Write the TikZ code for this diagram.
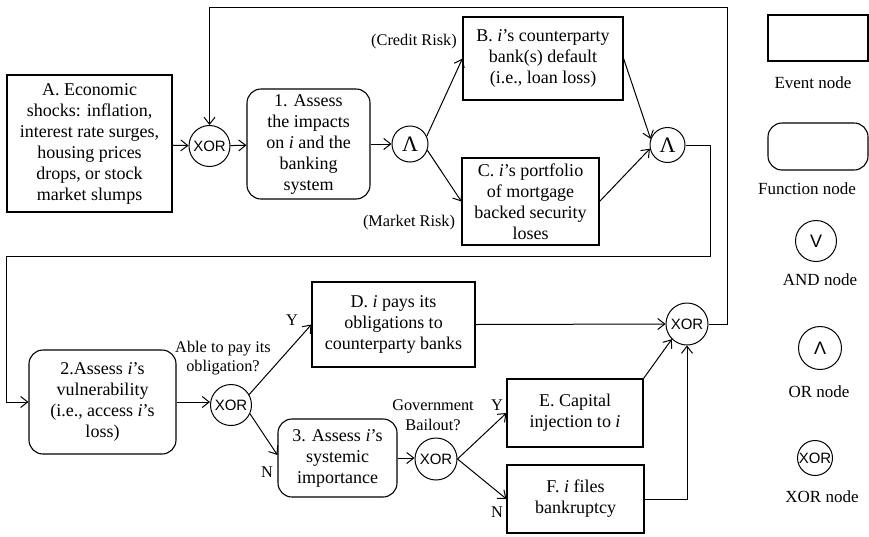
\documentclass[tikz,border=0pt]{standalone}
\usepackage{fontspec}
\setmainfont{Liberation Serif}
\newfontfamily\gatefont{Liberation Sans}
\usetikzlibrary{arrows.meta}
\newcommand\bodyfont{\fontsize{18}{21}\selectfont}
\newcommand\labelfont{\fontsize{16.3}{19.5}\selectfont}
\newcommand\keyfont{\fontsize{17}{20}\selectfont}
\begin{document}
\begin{tikzpicture}[x=1pt,y=-1pt,
  >={Straight Barb[length=7pt,width=11pt]},
  event/.style={draw, line width=1.1pt, align=center, inner sep=0pt, font=\bodyfont},
  func/.style={event, rounded corners=14pt},
  gate/.style={draw, circle, line width=1pt, inner sep=0pt},
  xorgate/.style={gate, font=\gatefont\fontsize{15}{15}\selectfont},
  andgate/.style={gate, font=\fontsize{22}{22}\selectfont},
  lbl/.style={align=center, inner sep=0pt, font=\labelfont},
  keylbl/.style={align=center, inner sep=0pt, font=\keyfont},
  conn/.style={line width=1pt, ->},
  wire/.style={line width=1pt}]
\useasboundingbox (0,0) rectangle (869,536);

% event and function nodes
\node[event, minimum width=165, minimum height=137] (A) at (89.5,143.5)
  {A. Economic\\shocks: inflation,\\interest rate surges,\\housing prices\\drops, or stock\\market slumps};
\node[func, minimum width=123, minimum height=110] (F1) at (308.5,144)
  {1. Assess\\the impacts\\on \textit{i} and the\\banking\\system};
\node[event, minimum width=160, minimum height=83] (B) at (543,58.5)
  {B. \textit{i}’s counterparty\\bank(s) default\\(i.e., loan loss)};
\node[event, minimum width=137, minimum height=87] (C) at (530.5,201.5)
  {C. \textit{i}’s portfolio\\of mortgage\\backed security\\loses};
\node[func, minimum width=147, minimum height=104] (F2) at (102.5,402)
  {2.Assess \textit{i}’s\\vulnerability\\(i.e., access \textit{i}’s\\loss)};
\node[event, minimum width=163, minimum height=85] (D) at (393.5,324.5)
  {D. \textit{i} pays its\\obligations to\\counterparty banks};
\node[func, minimum width=119, minimum height=78] (F3) at (337.5,458)
  {3. Assess \textit{i}’s\\systemic\\importance};
\node[event, minimum width=136, minimum height=68] (E) at (575,413)
  {E. Capital\\injection to \textit{i}};
\node[event, minimum width=137, minimum height=68] (F) at (575.5,499)
  {F. \textit{i} files\\bankruptcy};

% logical connectors
\node[xorgate, minimum size=41] (X1) at (209.5,146) {XOR};
\node[andgate, minimum size=36] (L1) at (410,144) {Λ};
\node[andgate, minimum size=35] (L2) at (667.5,145) {Λ};
\node[xorgate, minimum size=41] (X2) at (231,405) {XOR};
\node[xorgate, minimum size=42] (X3) at (436,459) {XOR};
\node[xorgate, minimum size=42] (X4) at (687,324) {XOR};

% routing points of the two feedback wires
\coordinate (t1) at (727,7);
\coordinate (t2) at (209.5,7);
\coordinate (r1) at (710,256);
\coordinate (r2) at (6,256);

% connectors
\draw[conn] (A) -- (X1);
\draw[conn] (X1) -- (F1);
\draw[conn] (F1) -- (L1);
\draw[conn] (L1.25) -- (B.west);
\draw[conn] (L1.-20) -- (C.west);
\draw[conn] (B.east) -- (L2.160);
\draw[conn] (C.east) -- (L2.192);
\draw[conn] (L2.east) -| (r1) -- (r2) |- (F2.west);
\draw[conn] (F2.east) -- (X2.west |- F2.east);
\draw[conn] (X2.30) -- (D.west);
\draw[conn] (X2.-25) -- ([yshift=3pt]F3.west);
\draw[conn] (F3.east) -- (X3.west |- F3.east);
\draw[conn] (X3.east) -- (E.west);
\draw[conn] (X3.east) -- (F.west);
\draw[conn] (D.east) -- (X4.west);
\draw[conn] (E.north east) -- (X4.225);
\draw[conn] (F.east) -| (X4.south);
\draw[conn] (X4.east) -| (t1) -- (t2) -- (X1.north);

% branch labels
\node[lbl] (lcr) at (414,42) {(Credit Risk)};
\node[lbl] (lmr) at (409,223) {(Market Risk)};
\node[lbl] (lpay) at (223,358) {Able to pay its\\obligation?};
\node[lbl] (ly1) at (292,320) {Y};
\node[lbl] (ln1) at (267,472) {N};
\node[lbl] (lgov) at (433,415) {Government\\Bailout?};
\node[lbl] (ly2) at (497,405) {Y};
\node[lbl] (ln2) at (497,512) {N};

% legend
\node[event, minimum width=100, minimum height=46] (kev) at (818,38) {};
\node[keylbl] at (813,83) {Event node};
\node[func, minimum width=100, minimum height=47] (kfn) at (818,146.5) {};
\node[keylbl] at (807,189) {Function node};
\node[gate, minimum size=41, font=\gatefont\fontsize{18}{18}\selectfont] (kand) at (816,241) {V};
\node[keylbl] at (820,280) {AND node};
\node[gate, minimum size=43, font=\gatefont\fontsize{18}{18}\selectfont] (kor) at (820,348) {Λ};
\node[keylbl] at (819,392) {OR node};
\node[xorgate, minimum size=35] (kxor) at (815,458) {XOR};
\node[keylbl] at (822,497) {XOR node};
\end{tikzpicture}
\end{document}
